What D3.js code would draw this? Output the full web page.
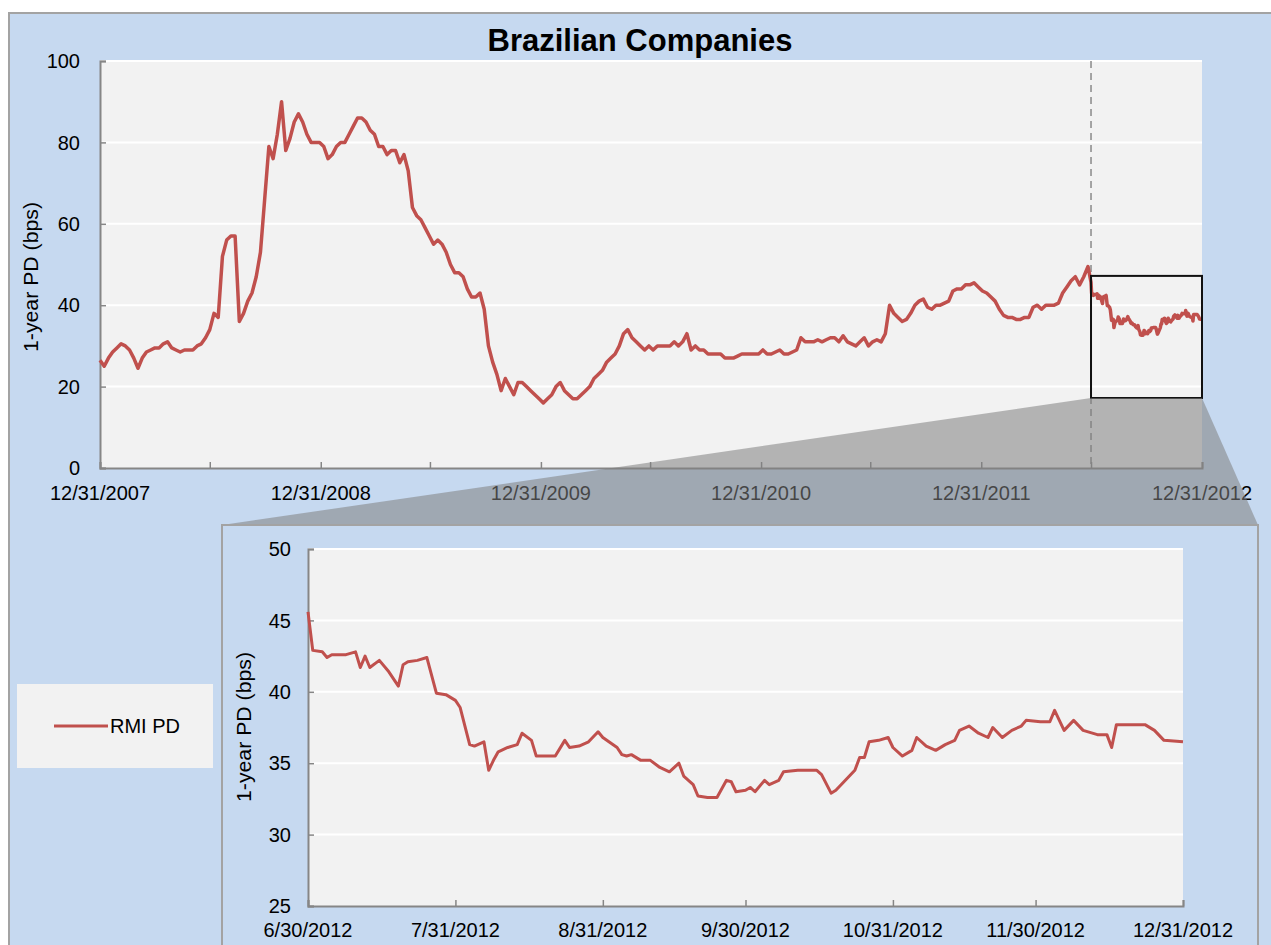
<!DOCTYPE html>
<html>
<head>
<meta charset="utf-8">
<title>Brazilian Companies</title>
<style>
  body { margin: 0; background: #fff; }
  svg { display: block; font-family: "Liberation Sans", Arial, sans-serif; }
</style>
</head>
<body>
<script src="https://d3js.org/d3.v7.min.js"></script>
<script>
// weekly RMI PD readings, starting 12/31/2007
const mainStart = "2007-12-31";
const mainStepDays = 7;
const mainValues = [
  26.5, 25, 27, 28.5, 29.5, 30.5, 30, 29, 27, 24.5,
  27, 28.5, 29, 29.5, 29.5, 30.5, 31, 29.5, 29, 28.5,
  29, 29, 29, 30, 30.5, 32, 34, 38, 37, 52,
  56, 57, 57, 36, 38, 41, 43, 47, 53, 66,
  79, 76, 82, 90, 78, 81, 85, 87, 85, 82,
  80, 80, 80, 79, 76, 77, 79, 80, 80, 82,
  84, 86, 86, 85, 83, 82, 79, 79, 77, 78,
  78, 75, 77, 73, 64, 62, 61, 59, 57, 55,
  56, 55, 53, 50, 48, 48, 47, 44, 42, 42,
  43, 39, 30, 26, 23, 19, 22, 20, 18, 21,
  21, 20, 19, 18, 17, 16, 17, 18, 20, 21,
  19, 18, 17, 17, 18, 19, 20, 22, 23, 24,
  26, 27, 28, 30, 33, 34, 32, 31, 30, 29,
  30, 29, 30, 30, 30, 30, 31, 30, 31, 33,
  29, 30, 29, 29, 28, 28, 28, 28, 27, 27,
  27, 27.5, 28, 28, 28, 28, 28, 29, 28, 28,
  28.5, 29, 28, 28, 28.5, 29, 32, 31, 31, 31,
  31.5, 31, 31.5, 32, 32, 31, 32.5, 31, 30.5, 30,
  31, 32, 30, 31, 31.5, 31, 33, 40, 38, 37,
  36, 36.5, 38, 40, 41, 41.5, 39.5, 39, 40, 40,
  40.5, 41, 43.5, 44, 44, 45, 45, 45.5, 44.5, 43.5,
  43, 42, 41, 39, 37.5, 37, 37, 36.5, 36.5, 37,
  37, 39.5, 40, 39, 40, 40, 40, 40.5, 43, 44.5,
  46, 47, 45, 47, 49.5
];

// zoomed period 6/30/2012 - 12/31/2012
const zoomDates = [
  "2012-06-30", "2012-07-01", "2012-07-03", "2012-07-04", "2012-07-05", "2012-07-06", "2012-07-08",
  "2012-07-10", "2012-07-11", "2012-07-12", "2012-07-13", "2012-07-15", "2012-07-17", "2012-07-19",
  "2012-07-20", "2012-07-21", "2012-07-23", "2012-07-25", "2012-07-27", "2012-07-29", "2012-07-31",
  "2012-08-01", "2012-08-03", "2012-08-04", "2012-08-06", "2012-08-07", "2012-08-08", "2012-08-09",
  "2012-08-11", "2012-08-13", "2012-08-14", "2012-08-16", "2012-08-17", "2012-08-20", "2012-08-21",
  "2012-08-23", "2012-08-24", "2012-08-26", "2012-08-28", "2012-08-30", "2012-08-31",
  "2012-09-03", "2012-09-04", "2012-09-05", "2012-09-06", "2012-09-08", "2012-09-10", "2012-09-12",
  "2012-09-14", "2012-09-16", "2012-09-17", "2012-09-18", "2012-09-19", "2012-09-20", "2012-09-22",
  "2012-09-24", "2012-09-26", "2012-09-27", "2012-09-28", "2012-09-30",
  "2012-10-01", "2012-10-02", "2012-10-04", "2012-10-05", "2012-10-07", "2012-10-08", "2012-10-11",
  "2012-10-15", "2012-10-16", "2012-10-18", "2012-10-19", "2012-10-21", "2012-10-23", "2012-10-24",
  "2012-10-25", "2012-10-26", "2012-10-28", "2012-10-30", "2012-10-31",
  "2012-11-02", "2012-11-04", "2012-11-05", "2012-11-07", "2012-11-09", "2012-11-11", "2012-11-13",
  "2012-11-14", "2012-11-16", "2012-11-18", "2012-11-20", "2012-11-21", "2012-11-23", "2012-11-25",
  "2012-11-27", "2012-11-28", "2012-12-01",
  "2012-12-03", "2012-12-04", "2012-12-06", "2012-12-08", "2012-12-10", "2012-12-13", "2012-12-15",
  "2012-12-16", "2012-12-17", "2012-12-20", "2012-12-23", "2012-12-25", "2012-12-27", "2012-12-31"
];
const zoomValues = [
  45.6, 42.9, 42.8, 42.4, 42.6, 42.6, 42.6,
  42.8, 41.7, 42.5, 41.7, 42.2, 41.4, 40.4,
  41.9, 42.1, 42.2, 42.4, 39.9, 39.8, 39.4,
  38.9, 36.3, 36.2, 36.5, 34.5, 35.2, 35.8,
  36.1, 36.3, 37.1, 36.6, 35.5, 35.5, 35.5,
  36.6, 36.1, 36.2, 36.5, 37.2, 36.8,
  36.1, 35.6, 35.5, 35.6, 35.2, 35.2, 34.7,
  34.4, 35.0, 34.1, 33.8, 33.5, 32.7, 32.6,
  32.6, 33.8, 33.7, 33.0, 33.1,
  33.3, 33.0, 33.8, 33.5, 33.8, 34.4, 34.5,
  34.5, 34.2, 32.9, 33.1, 33.8, 34.5, 35.4,
  35.4, 36.5, 36.6, 36.8, 36.1,
  35.5, 35.9, 36.8, 36.2, 35.9, 36.3, 36.6,
  37.3, 37.6, 37.1, 36.8, 37.5, 36.8, 37.3,
  37.6, 38.0, 37.9,
  37.9, 38.7, 37.3, 38.0, 37.3, 37.0, 37.0,
  36.1, 37.7, 37.7, 37.7, 37.3, 36.6, 36.5
];

const mainTickDates = ["2007-12-31", "2008-06-30", "2008-12-31", "2009-06-30", "2009-12-31", "2010-06-30",
  "2010-12-31", "2011-06-30", "2011-12-31", "2012-06-30", "2012-12-31"];
const mainLabelDates = ["2007-12-31", "2008-12-31", "2009-12-31", "2010-12-31", "2011-12-31", "2012-12-31"];
const mainYTicks = [0, 20, 40, 60, 80, 100];
const zoomTickDates = ["2012-06-30", "2012-07-31", "2012-08-31", "2012-09-30", "2012-10-31", "2012-11-30", "2012-12-31"];
const zoomYTicks = [25, 30, 35, 40, 45, 50];
const zoomBoxRange = [17.2, 47.2];   // value range of the highlight box on the main chart

const title = "Brazilian Companies";
const yLabel = "1-year PD (bps)";
const seriesName = "RMI PD";

const parse = d3.timeParse("%Y-%m-%d");
const fmt = d3.timeFormat("%-m/%-d/%Y");
const RED = "#c0504d", AXIS = "#868686", PLOT_BG = "#f2f2f2", FRAME_BG = "#c6d9f0";

const startDate = parse(mainStart);
const mainData = mainValues.map((v, i) => ({ date: d3.timeDay.offset(startDate, i * mainStepDays), value: v }));
const zoomData = zoomDates.map((d, i) => ({ date: parse(d), value: zoomValues[i] }));
const fullData = mainData.concat(zoomData);

const width = 1271, height = 945;
const svg = d3.select("body").append("svg").attr("width", width).attr("height", height);

// outer frame
svg.append("rect").attr("x", 9).attr("y", 13).attr("width", 1280).attr("height", 950)
  .attr("fill", FRAME_BG).attr("stroke", "#a3a3a3").attr("stroke-width", 2);

svg.append("text").attr("x", 640).attr("y", 51).attr("text-anchor", "middle")
  .attr("font-size", 31).attr("font-weight", "bold").text(title);

// ---------- main chart ----------
const M = { left: 100, right: 1202, top: 61, bottom: 468 };
const x = d3.scaleTime().domain([parse("2007-12-31"), parse("2012-12-31")]).range([M.left, M.right]);
const y = d3.scaleLinear().domain([0, 100]).range([M.bottom, M.top]);

const gMain = svg.append("g");
gMain.append("rect").attr("x", M.left).attr("y", M.top).attr("width", M.right - M.left)
  .attr("height", M.bottom - M.top).attr("fill", PLOT_BG);

gMain.selectAll(".grid").data(mainYTicks.filter(d => d > 0)).join("line")
  .attr("x1", M.left).attr("x2", M.right).attr("y1", d => y(d)).attr("y2", d => y(d))
  .attr("stroke", "#fff").attr("stroke-width", 2);

const yAxis = gMain.append("g").attr("transform", `translate(${M.left},0)`)
  .call(d3.axisRight(y).tickValues(mainYTicks).tickSize(6).tickFormat(""));
const xAxis = gMain.append("g").attr("transform", `translate(0,${M.bottom})`)
  .call(d3.axisTop(x).tickValues(mainTickDates.map(parse)).tickSize(6).tickFormat(""));
[yAxis, xAxis].forEach(a => {
  a.select(".domain").attr("stroke", AXIS).attr("stroke-width", 2);
  a.selectAll(".tick line").attr("stroke", AXIS).attr("stroke-width", 1.5);
});

gMain.selectAll(".ylab").data(mainYTicks).join("text")
  .attr("x", M.left - 20).attr("y", d => y(d)).attr("dy", "0.36em")
  .attr("text-anchor", "end").attr("font-size", 20).text(d => d);
gMain.selectAll(".xlab").data(mainLabelDates.map(parse)).join("text")
  .attr("x", d => x(d)).attr("y", 500).attr("text-anchor", "middle")
  .attr("font-size", 20).text(d => fmt(d));
gMain.append("text").attr("transform", "translate(38,277) rotate(-90)")
  .attr("text-anchor", "middle").attr("font-size", 20).attr("textLength", 150)
  .attr("lengthAdjust", "spacingAndGlyphs").text(yLabel);

const zs = parse(zoomDates[0]), ze = parse(zoomDates[zoomDates.length - 1]);
gMain.append("line").attr("x1", x(zs)).attr("x2", x(zs)).attr("y1", M.top).attr("y2", M.bottom)
  .attr("stroke", "#8a8a8a").attr("stroke-width", 1.5).attr("stroke-dasharray", "7,5");

const lineMain = d3.line().x(d => x(d.date)).y(d => y(d.value));
gMain.append("path").datum(fullData).attr("d", lineMain).attr("fill", "none")
  .attr("stroke", RED).attr("stroke-width", 3.5).attr("stroke-linejoin", "round");

gMain.append("rect").attr("x", x(zs)).attr("y", y(zoomBoxRange[1]))
  .attr("width", x(ze) - x(zs)).attr("height", y(zoomBoxRange[0]) - y(zoomBoxRange[1]))
  .attr("fill", "none").attr("stroke", "#111").attr("stroke-width", 2);

// ---------- inset ----------
const I = { left: 308, right: 1183, top: 549, bottom: 906, frameL: 222, frameR: 1258, frameT: 525 };

// connector
svg.append("polygon")
  .attr("points", [[x(zs), y(zoomBoxRange[0])], [x(ze), y(zoomBoxRange[0])],
    [I.frameR, I.frameT], [I.frameL, I.frameT]].map(p => p.join(",")).join(" "))
  .attr("fill", "#808080").attr("fill-opacity", 0.55);

svg.append("rect").attr("x", I.frameL).attr("y", I.frameT).attr("width", I.frameR - I.frameL)
  .attr("height", 500).attr("fill", FRAME_BG).attr("stroke", "#a3a3a3").attr("stroke-width", 2);

const xi = d3.scaleTime().domain([zs, ze]).range([I.left, I.right]);
const yi = d3.scaleLinear().domain([25, 50]).range([I.bottom, I.top]);
const gIn = svg.append("g");
gIn.append("rect").attr("x", I.left).attr("y", I.top).attr("width", I.right - I.left)
  .attr("height", I.bottom - I.top).attr("fill", PLOT_BG);
gIn.selectAll(".grid").data(zoomYTicks.filter(d => d > 25)).join("line")
  .attr("x1", I.left).attr("x2", I.right).attr("y1", d => yi(d)).attr("y2", d => yi(d))
  .attr("stroke", "#fff").attr("stroke-width", 2);

const yiAxis = gIn.append("g").attr("transform", `translate(${I.left},0)`)
  .call(d3.axisRight(yi).tickValues(zoomYTicks).tickSize(6).tickFormat(""));
const xiAxis = gIn.append("g").attr("transform", `translate(0,${I.bottom})`)
  .call(d3.axisTop(xi).tickValues(zoomTickDates.map(parse)).tickSize(6).tickFormat(""));
[yiAxis, xiAxis].forEach(a => {
  a.select(".domain").attr("stroke", AXIS).attr("stroke-width", 2);
  a.selectAll(".tick line").attr("stroke", AXIS).attr("stroke-width", 1.5);
});

gIn.selectAll(".ylab").data(zoomYTicks).join("text")
  .attr("x", I.left - 17).attr("y", d => yi(d)).attr("dy", "0.36em")
  .attr("text-anchor", "end").attr("font-size", 20).text(d => d);
gIn.selectAll(".xlab").data(zoomTickDates.map(parse)).join("text")
  .attr("x", d => xi(d)).attr("y", 937).attr("text-anchor", "middle")
  .attr("font-size", 20).text(d => fmt(d));
gIn.append("text").attr("transform", "translate(251,727) rotate(-90)")
  .attr("text-anchor", "middle").attr("font-size", 20).attr("textLength", 150)
  .attr("lengthAdjust", "spacingAndGlyphs").text(yLabel);

const lineIn = d3.line().x(d => xi(d.date)).y(d => yi(d.value));
gIn.append("path").datum(zoomData).attr("d", lineIn).attr("fill", "none")
  .attr("stroke", RED).attr("stroke-width", 3).attr("stroke-linejoin", "round");

// legend
const leg = svg.append("g");
leg.append("rect").attr("x", 17).attr("y", 684).attr("width", 196).attr("height", 84).attr("fill", PLOT_BG);
leg.append("line").attr("x1", 54).attr("x2", 108).attr("y1", 726).attr("y2", 726)
  .attr("stroke", RED).attr("stroke-width", 3);
leg.append("text").attr("x", 110).attr("y", 733).attr("font-size", 20).text(seriesName);
</script>
</body>
</html>
